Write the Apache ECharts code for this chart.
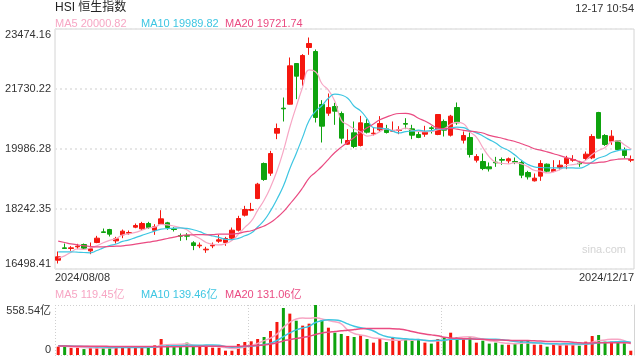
<!DOCTYPE html>
<html><head><meta charset="utf-8">
<script src="https://cdn.jsdelivr.net/npm/echarts@6/dist/echarts.min.js"></script>
<style>html,body{margin:0;padding:0;background:#fff}#c{width:640px;height:360px}</style>
</head><body><div id="c"></div>
<script>
// ---- data ----
const dates = [
 '2024/08/08','2024/08/09','2024/08/12','2024/08/13','2024/08/14','2024/08/15','2024/08/16','2024/08/19','2024/08/20','2024/08/21',
 '2024/08/22','2024/08/23','2024/08/26','2024/08/27','2024/08/28','2024/08/29','2024/08/30','2024/09/02','2024/09/03','2024/09/04',
 '2024/09/05','2024/09/09','2024/09/10','2024/09/11','2024/09/12','2024/09/13','2024/09/16','2024/09/17','2024/09/19','2024/09/20',
 '2024/09/23','2024/09/24','2024/09/25','2024/09/26','2024/09/27','2024/09/30','2024/10/02','2024/10/03','2024/10/04','2024/10/07',
 '2024/10/08','2024/10/09','2024/10/10','2024/10/14','2024/10/15','2024/10/16','2024/10/17','2024/10/18','2024/10/21','2024/10/22',
 '2024/10/23','2024/10/24','2024/10/25','2024/10/28','2024/10/29','2024/10/30','2024/10/31','2024/11/01','2024/11/04','2024/11/05',
 '2024/11/06','2024/11/07','2024/11/08','2024/11/11','2024/11/12','2024/11/13','2024/11/14','2024/11/15','2024/11/18','2024/11/19',
 '2024/11/20','2024/11/21','2024/11/22','2024/11/25','2024/11/26','2024/11/27','2024/11/28','2024/11/29','2024/12/02','2024/12/03',
 '2024/12/04','2024/12/05','2024/12/06','2024/12/09','2024/12/10','2024/12/11','2024/12/12','2024/12/13','2024/12/16','2024/12/17'
];
const opens = [
 16755,17113,17094,17142,17210,17026,17268,17578,17646,17317,
 17491,17540,17714,17666,17821,17627,17801,17840,17666,17472,
 17472,17259,17171,17055,17171,17307,17268,17394,17627,18063,
 18208,18547,19565,19284,20446,21173,21289,22471,22016,22936,
 22820,21280,21028,21221,21018,20127,20456,20088,20727,20427,
 20543,20572,20505,20524,20727,20572,20408,20417,20602,20408,
 20786,20388,21192,20243,20321,19661,19623,19468,19604,19681,
 19642,19623,19594,19303,19061,19197,19545,19332,19449,19565,
 19661,19574,19710,19729,21047,20379,20214,20223,19952,19661
];
const closes = [
 16852,17094,17113,17162,17104,17084,17394,17559,17511,17375,
 17598,17559,17763,17821,17704,17724,17956,17704,17646,17452,
 17452,17181,17191,17075,17191,17346,17385,17627,17966,18228,
 18228,18964,19100,19855,20582,21154,22404,22103,22704,23053,
 20902,20650,21192,21086,20301,20233,20059,20747,20475,20446,
 20727,20466,20524,20543,20708,20388,20321,20475,20582,20989,
 20534,20941,20747,20379,19826,19768,19419,19410,19584,19661,
 19700,19604,19226,19177,19138,19565,19342,19390,19516,19720,
 19681,19555,19836,20350,20301,20117,20359,19972,19797,19681
];
const highs = [
 17007,17239,17162,17230,17239,17268,17462,17675,17666,17433,
 17646,17617,17821,17869,17869,17801,18208,17869,17714,17530,
 17540,17307,17268,17143,17268,17491,17433,17704,18044,18334,
 18421,19003,19594,19933,20727,21483,22646,22480,22743,23227,
 22878,21406,21599,21328,21076,20563,20786,20950,20853,20611,
 20941,20689,20786,20650,20882,20689,20485,20660,20650,20999,
 20844,20979,21338,20495,20466,19836,19855,19594,19758,19739,
 19739,19739,19642,19352,19274,19661,19565,19661,19661,19788,
 19807,19642,19913,20417,21066,20417,20534,20243,20030,19797
];
const lows = [
 16658,17090,17026,17075,17065,16929,17249,17555,17443,17239,
 17394,17491,17685,17637,17666,17491,17782,17637,17588,17317,
 17336,17046,17104,16968,17104,17259,17172,17365,17588,18024,
 18179,18528,19061,19206,20272,20786,21280,21435,21822,22723,
 20756,20175,20950,20689,20146,20107,20010,20059,20437,20379,
 20485,20437,20485,20417,20563,20272,20301,20340,20437,20388,
 20350,20350,20689,20146,19739,19594,19371,19332,19468,19526,
 19565,19545,19138,19100,19042,19061,19303,19313,19371,19400,
 19613,19468,19661,19691,20290,20078,20107,19952,19720,19604
];
// turnover, 亿
const volumes = [
 93,93,80,84,66,80,86,78,83,90,
 98,85,88,84,80,108,179,123,93,93,
 138,93,100,100,82,82,48,48,123,145,
 153,179,201,268,369,525,462,383,328,350,
 558.54,391,305,249,235,212,201,220,179,138,
 179,145,194,164,175,160,175,138,127,179,
 197,249,201,179,197,138,160,127,138,115,
 115,127,160,160,115,115,93,123,115,127,
 115,104,149,212,223,149,149,149,130,48
];
// moving-average values before enough in-window history exists
const ma5Lead = [16813,16881,16987,17084];
const ma10Lead = [16997,16997,16997,16987,16978,16968,17036,17113,17181];
const ma20Lead = [17307,17268,17230,17201,17172,17152,17143,17143,17152,17162,17172,17191,17220,17249,17278,17307,17346,17385,17424];
const vma5Lead = [100,97,92,88];
const vma10Lead = [104,102,100,98,96,93,90,88,86];
const vma20Lead = [100,100,99,99,98,98,97,97,96,96,95,95,95,94,94,94,93,93,93];

const priceTicks = ['16498.41','18242.35','19986.28','21730.22','23474.16'];
const volTicks = ['0','558.54亿'];
const priceLegend = ['MA5 20000.82','MA10 19989.82','MA20 19721.74'];
const volLegend = ['MA5 119.45亿','MA10 139.46亿','MA20 131.06亿'];
const titleText = 'HSI 恒生指数';
const timeText = '12-17 10:54';
const watermark = 'sina.com';

// ---- build ----
const UP = '#f5170f', DOWN = '#0ea30e';
const C5 = '#f7a6c4', C10 = '#3ec6e2', C20 = '#ea4b82';
const FONT = '"Liberation Sans", Arial, "Noto Sans CJK SC", sans-serif';

function movingAvg(values, lead, n) {
  return values.map((v, i) => {
    if (i < n - 1) return lead[i];
    let s = 0;
    for (let k = i - n + 1; k <= i; k++) s += values[k];
    return +(s / n).toFixed(2);
  });
}

const candleData = opens.map((o, i) => [o, closes[i], lows[i], highs[i]]);
const volData = volumes.map((v, i) => ({
  value: v,
  itemStyle: { color: closes[i] >= opens[i] ? UP : DOWN }
}));
const labelAxisData = dates.map((d, i) => {
  if (i === 0) return { value: d, textStyle: { align: 'left' } };
  if (i === dates.length - 1) return { value: d, textStyle: { align: 'right' } };
  return d;
});

const pMin = +priceTicks[0], pMax = +priceTicks[priceTicks.length - 1];
const pInterval = (pMax - pMin) / (priceTicks.length - 1);
const vMax = parseFloat(volTicks[1]);

const chart = echarts.init(document.getElementById('c'), null, { renderer: 'canvas' });

function lineSeries(name, data, color, xi, yi, w) {
  return {
    name, type: 'line', data, xAxisIndex: xi, yAxisIndex: yi,
    symbol: 'none', smooth: true, z: 5,
    lineStyle: { color, width: w }, silent: true
  };
}

const legendGraphics = [];
const legendX = [55, 141, 225];
priceLegend.forEach((t, i) => legendGraphics.push({
  type: 'text', x: legendX[i], y: 24,
  style: { text: t, fill: [C5, C10, C20][i], font: '11px ' + FONT, verticalAlign: 'middle', align: 'left' }
}));
volLegend.forEach((t, i) => legendGraphics.push({
  type: 'text', x: legendX[i], y: 295,
  style: { text: t, fill: [C5, C10, C20][i], font: '11px ' + FONT, verticalAlign: 'middle', align: 'left' }
}));

chart.setOption({
  animation: false,
  backgroundColor: '#fff',
  textStyle: { fontFamily: FONT },
  grid: [
    { left: 55, top: 29, width: 579, height: 240, show: true, borderColor: '#d4d4d4', borderWidth: 1 },
    { left: 55, top: 305, width: 579, height: 50, show: false }
  ],
  xAxis: [
    { type: 'category', gridIndex: 0, data: dates, boundaryGap: true,
      axisLine: { show: false }, axisTick: { show: false }, axisLabel: { show: false }, splitLine: { show: false } },
    { type: 'category', gridIndex: 0, data: labelAxisData, boundaryGap: false, position: 'bottom',
      axisLine: { show: false }, axisTick: { show: false }, splitLine: { show: false },
      axisLabel: { show: true, color: '#333', fontSize: 11, margin: 3,
        interval: (idx) => idx === 0 || idx === dates.length - 1,
        alignMinLabel: 'left', alignMaxLabel: 'right' } },
    { type: 'category', gridIndex: 1, data: dates, boundaryGap: true,
      axisLine: { show: false }, axisTick: { show: false }, axisLabel: { show: false },
      splitLine: { show: true, interval: 29, lineStyle: { color: '#cfcfcf', type: [1, 2], width: 1 } } }
  ],
  yAxis: [
    { type: 'value', gridIndex: 0, min: pMin, max: pMax, interval: pInterval,
      axisLine: { show: false }, axisTick: { show: false },
      axisLabel: { color: '#333', fontSize: 11, margin: 4,
        formatter: (v, idx) => priceTicks[idx] ?? '',
        verticalAlignMinLabel: 'bottom', verticalAlignMaxLabel: 'top' },
      splitLine: { show: true, lineStyle: { color: '#e6e6e6', type: [2, 3], width: 2 } } },
    { type: 'value', gridIndex: 1, min: 0, max: vMax, interval: vMax,
      axisLine: { show: false }, axisTick: { show: false },
      axisLabel: { color: '#333', fontSize: 11, margin: 4,
        formatter: (v, idx) => volTicks[idx] ?? '',
        verticalAlignMinLabel: 'bottom', verticalAlignMaxLabel: 'top' },
      splitLine: { show: true, lineStyle: { color: '#cfcfcf', type: [1, 2], width: 1 } } },
    { type: 'value', gridIndex: 1, position: 'right', min: 0, max: vMax,
      axisLine: { show: true, lineStyle: { color: '#d4d4d4' } }, axisTick: { show: false },
      axisLabel: { show: false }, splitLine: { show: false } }
  ],
  series: [
    { name: 'K', type: 'candlestick', xAxisIndex: 0, yAxisIndex: 0, data: candleData, barWidth: 5,
      itemStyle: { color: UP, color0: DOWN, borderColor: UP, borderColor0: DOWN, borderWidth: 1 } },
    lineSeries('MA5', movingAvg(closes, ma5Lead, 5), C5, 0, 0, 1.2),
    lineSeries('MA10', movingAvg(closes, ma10Lead, 10), C10, 0, 0, 1.2),
    lineSeries('MA20', movingAvg(closes, ma20Lead, 20), C20, 0, 0, 1.2),
    { name: 'VOL', type: 'bar', xAxisIndex: 2, yAxisIndex: 1, data: volData, barWidth: 3 },
    lineSeries('VMA5', movingAvg(volumes, vma5Lead, 5), C5, 2, 1, 1.5),
    lineSeries('VMA10', movingAvg(volumes, vma10Lead, 10), C10, 2, 1, 1.5),
    lineSeries('VMA20', movingAvg(volumes, vma20Lead, 20), C20, 2, 1, 1.5)
  ],
  graphic: [
    { type: 'text', x: 55, y: 8, style: { text: titleText, fill: '#222', font: '12px ' + FONT, verticalAlign: 'middle', align: 'left' } },
    { type: 'text', x: 634, y: 9, style: { text: timeText, fill: '#333', font: '11px ' + FONT, verticalAlign: 'middle', align: 'right' } },
    { type: 'text', x: 582, y: 250, z: -1, style: { text: watermark, fill: '#d4d4d4', font: '11px ' + FONT, verticalAlign: 'middle', align: 'left' } }
  ].concat(legendGraphics)
});
</script>
</body></html>
